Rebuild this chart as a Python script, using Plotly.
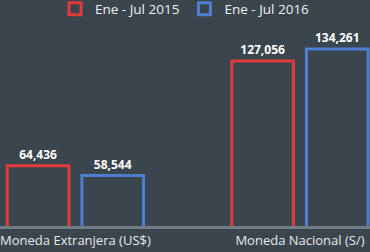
import plotly.graph_objects as go

categories = ["Moneda Extranjera (US$)", "Moneda Nacional (S/)"]
series_names = ["Ene - Jul 2015", "Ene - Jul 2016"]
values_2015 = [64436, 127056]
values_2016 = [58544, 134261]

bg = "#3b454d"
red = "#e23b3b"
blue = "#4f7fd0"

fig = go.Figure()
for name, vals, col in [(series_names[0], values_2015, red), (series_names[1], values_2016, blue)]:
    fig.add_trace(go.Bar(
        x=categories, y=vals, name=name,
        marker=dict(color="rgba(0,0,0,0)", line=dict(color=col, width=3)),
        text=[f"{v:,}" for v in vals], textposition="outside",
        textfont=dict(family="Open Sans", size=12, color="#ffffff", weight="bold"),
        cliponaxis=False,
    ))

fig.update_layout(
    width=370, height=252,
    margin=dict(l=0, r=0, t=20, b=26, autoexpand=False),
    paper_bgcolor=bg, plot_bgcolor=bg,
    barmode="group", bargap=0.335, bargroupgap=0.174,
    showlegend=True,
    legend=dict(orientation="h", x=0.5, xanchor="center", y=0.964, yanchor="middle",
                yref="container", font=dict(family="Open Sans", size=13.5, color="#f0f0f0"),
                bgcolor="rgba(0,0,0,0)", itemwidth=30),
    font=dict(family="Open Sans", color="#e8e8e8"),
)
fig.update_xaxes(range=[-0.336, 1.312], showline=True, linecolor="#737d85", linewidth=3,
                 showgrid=False, ticks="",
                 tickfont=dict(family="Open Sans", size=13, color="#e8e8e8"))
fig.update_yaxes(range=[28341, 151547], visible=False, showgrid=False)

fig.write_html("out.html")
